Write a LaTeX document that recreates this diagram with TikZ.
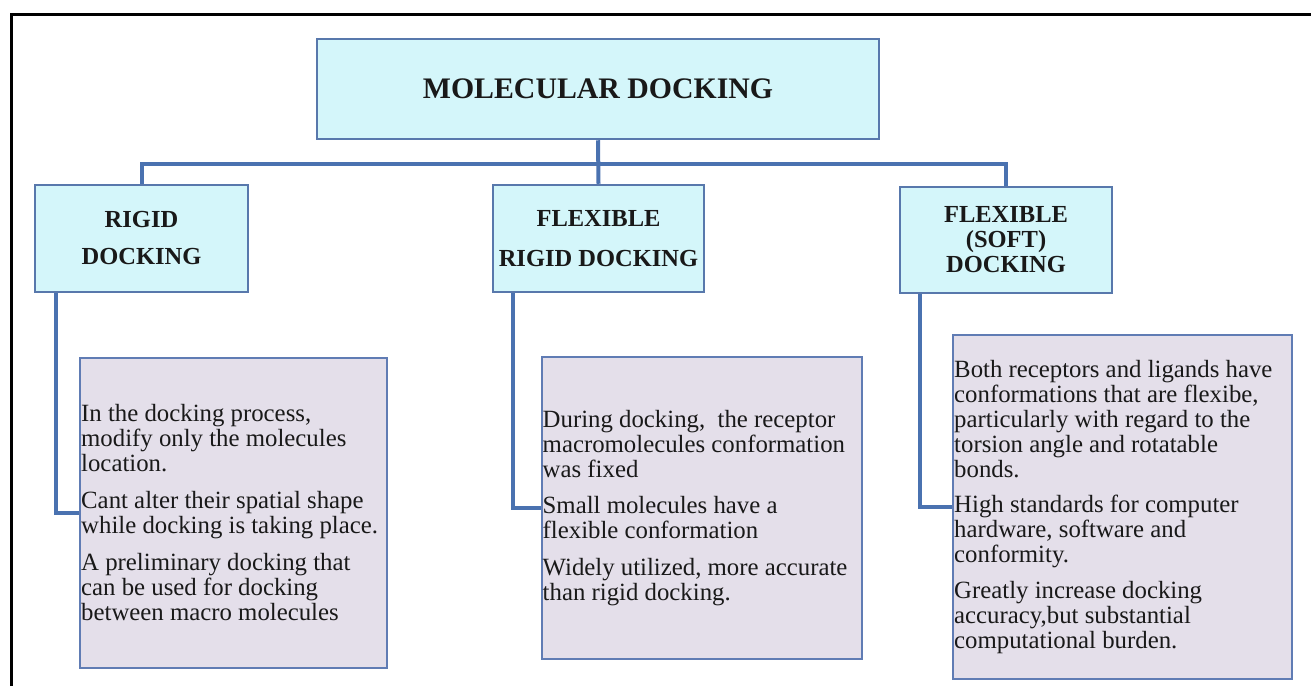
\documentclass[tikz,border=0pt]{standalone}
\usepackage{fontspec}
\setmainfont{Liberation Serif}
\usetikzlibrary{backgrounds}
\definecolor{hdrfill}{RGB}{212,246,250}
\definecolor{hdrline}{RGB}{88,120,172}
\definecolor{conn}{RGB}{74,114,176}
\definecolor{detfill}{RGB}{228,223,234}
\definecolor{detline}{RGB}{96,124,180}
\definecolor{txt}{RGB}{25,25,25}
\begin{document}
\begin{tikzpicture}[x=1pt,y=-1pt,
  hdr/.style={draw=hdrline, line width=2.5pt, fill=hdrfill, inner sep=0pt, align=center, text=txt},
  hfont/.style={font=\bfseries\fontsize{24.5}{#1}\selectfont},
  det/.style={draw=detline, line width=2pt, fill=detfill, inner sep=0pt},
  body/.style={anchor=west, inner sep=0pt, align=left, text=txt, font=\fontsize{24.8}{25}\selectfont},
  link/.style={draw=conn, line width=4pt},
  frame/.style={draw=black, line width=3pt}]
\useasboundingbox (0,0) rectangle (1311,686);
\draw[frame] (11.5,686) -- (11.5,14.5) -- (1311,14.5);

\node[hdr, minimum width=562pt, minimum height=100pt, font=\bfseries\fontsize{29.8}{32}\selectfont] (top) at (598,89) {MOLECULAR DOCKING};
\node[hdr, hfont=37, minimum width=213pt, minimum height=107pt] (rigid) at (141.5,238.5) {RIGID\\DOCKING};
\node[hdr, hfont=40, minimum width=211pt, minimum height=107pt] (mid) at (598.5,238.5) {FLEXIBLE\\RIGID DOCKING};
\node[hdr, hfont=25, minimum width=212pt, minimum height=106pt] (soft) at (1006,240) {FLEXIBLE\\(SOFT)\\DOCKING};

\node[det, minimum width=307pt, minimum height=310pt] (d1) at (233.5,513) {};
\node[det, minimum width=320pt, minimum height=302pt] (d2) at (702,508) {};
\node[det, minimum width=339pt, minimum height=344pt] (d3) at (1122.5,507) {};

\node[body] (t1) at ([xshift=2pt]d1.west) {In the docking process,\\modify only the molecules\\location.\\[12pt]Cant alter their spatial shape\\while docking is taking place.\\[12pt]A preliminary docking that\\can be used for docking\\between macro molecules};
\node[body] (t2) at ([xshift=1.5pt]d2.west) {During docking,\ \ the receptor\\macromolecules conformation\\was fixed\\[11pt]Small molecules have a\\flexible conformation\\[12pt]Widely utilized, more accurate\\than rigid docking.};
\node[body] (t3) at ([xshift=2pt]d3.west) {Both receptors and ligands have\\conformations that are flexibe,\\particularly with regard to the\\torsion angle and rotatable\\bonds.\\[10pt]High standards for computer\\hardware, software and\\conformity.\\[11pt]Greatly increase docking\\accuracy,but substantial\\computational burden.};

\coordinate (bus) at (598.5,164);
\begin{scope}[on background layer]
\draw[link] (top.south) -- (mid.north);
\draw[link] (rigid.north) |- (bus) -| (soft.north);
\draw[link] ([xshift=22pt]rigid.south west) |- (d1.west);
\draw[link] ([xshift=21pt]mid.south west) |- (d2.west);
\draw[link] ([xshift=21pt]soft.south west) |- (d3.west);
\end{scope}
\end{tikzpicture}
\end{document}
